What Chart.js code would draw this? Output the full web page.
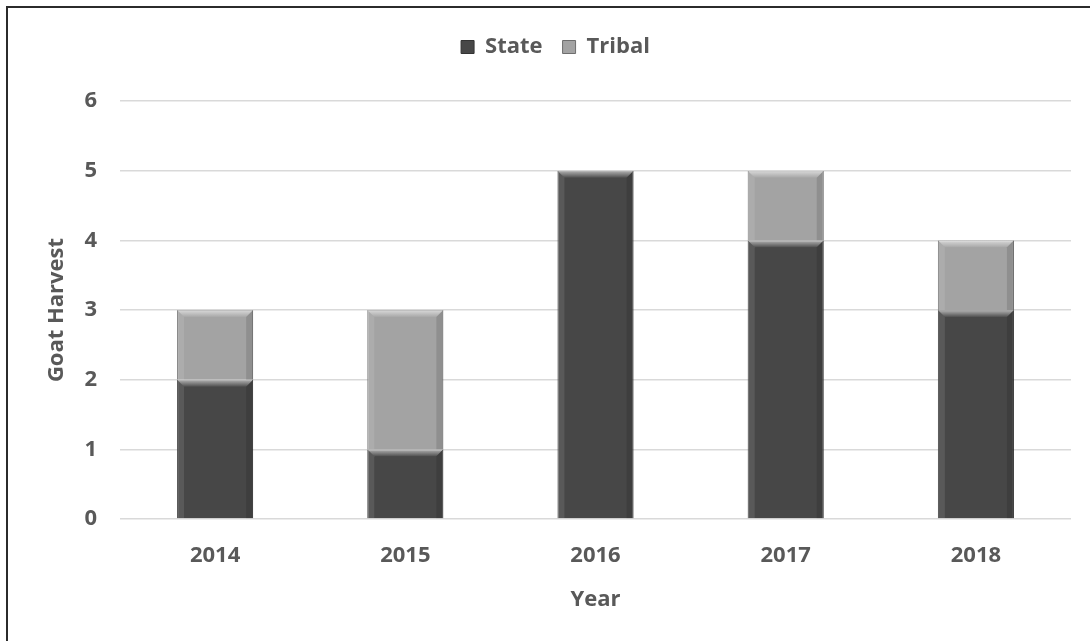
<!DOCTYPE html>
<html lang="en">
<head>
  <meta charset="UTF-8" />
  <title>Goat Harvest</title>
  <script src="https://cdn.jsdelivr.net/npm/chart.js"></script>
  <style>
    body {
      margin: 0;
      background: #fff;
    }

    .frame {
      position: absolute;
      left: 6px;
      top: 6px;
      width: 1084px;
      height: 635px;
      border-left: 2px solid #2b2b2b;
      border-top: 2px solid #2b2b2b;
      box-sizing: border-box;
    }

    .chart-box {
      position: absolute;
      left: 0;
      top: 0;
      width: 1090px;
      height: 641px;
    }
  </style>
</head>
<body>
  <div class="chart-box">
    <canvas id="harvest" width="1090" height="641"></canvas>
  </div>
  <div class="frame"></div>

  <script>
    const years = ['2014', '2015', '2016', '2017', '2018'];
    const stateHarvest = [2, 1, 5, 4, 3];
    const tribalHarvest = [1, 2, 0, 1, 1];
    const yTicks = [0, 1, 2, 3, 4, 5, 6];

    const textGray = '#595959';
    const font = { family: '"Open Sans", Lato, sans-serif', size: 22, weight: 'bold' };

    // soft bevel on top / sides of every bar, like the Office style
    const bevel = {
      id: 'bevel',
      afterDatasetsDraw(chart) {
        const ctx = chart.ctx;
        chart.data.datasets.forEach((ds, i) => {
          const meta = chart.getDatasetMeta(i);
          meta.data.forEach((bar, j) => {
            if (!ds.data[j]) return;
            const left = bar.x - bar.width / 2;
            const right = bar.x + bar.width / 2;
            const top = bar.y;
            const bottom = bar.base;
            const b = 7;
            ctx.save();
            // top bevel
            let g = ctx.createLinearGradient(0, top, 0, top + b);
            g.addColorStop(0, 'rgba(255,255,255,0.6)');
            g.addColorStop(1, 'rgba(255,255,255,0.05)');
            ctx.fillStyle = g;
            ctx.beginPath();
            ctx.moveTo(left, top);
            ctx.lineTo(right, top);
            ctx.lineTo(right - b, top + b);
            ctx.lineTo(left + b, top + b);
            ctx.closePath();
            ctx.fill();
            // left edge
            ctx.fillStyle = 'rgba(255,255,255,0.10)';
            ctx.beginPath();
            ctx.moveTo(left, top);
            ctx.lineTo(left + b, top + b);
            ctx.lineTo(left + b, bottom);
            ctx.lineTo(left, bottom);
            ctx.closePath();
            ctx.fill();
            // right edge
            ctx.fillStyle = 'rgba(0,0,0,0.12)';
            ctx.beginPath();
            ctx.moveTo(right, top);
            ctx.lineTo(right - b, top + b);
            ctx.lineTo(right - b, bottom);
            ctx.lineTo(right, bottom);
            ctx.closePath();
            ctx.fill();
            ctx.restore();
          });
        });
      }
    };

    // extra room under the legend
    const legendGap = {
      id: 'legendGap',
      beforeInit(chart) {
        const fit = chart.legend.fit;
        chart.legend.fit = function () {
          fit.bind(chart.legend)();
          this.height += 33;
        };
      }
    };

    new Chart(document.getElementById('harvest'), {
      type: 'bar',
      data: {
        labels: years,
        datasets: [
          {
            label: 'State',
            data: stateHarvest,
            backgroundColor: '#474747',
            borderColor: '#333333',
            borderWidth: 1,
            barPercentage: 0.8,
            categoryPercentage: 0.5
          },
          {
            label: 'Tribal',
            data: tribalHarvest,
            backgroundColor: '#a3a3a3',
            borderColor: '#6e6e6e',
            borderWidth: 1,
            barPercentage: 0.8,
            categoryPercentage: 0.5
          }
        ]
      },
      options: {
        responsive: false,
        animation: false,
        layout: { padding: { left: 40, right: 19, top: 16, bottom: 21 } },
        plugins: {
          legend: {
            position: 'top',
            labels: {
              color: textGray,
              font: font,
              boxWidth: 13,
              boxHeight: 13,
              padding: 20
            }
          },
          tooltip: { enabled: false }
        },
        scales: {
          x: {
            stacked: true,
            grid: { display: false },
            border: { display: false },
            ticks: { color: textGray, font: font, padding: 16 },
            title: { display: true, text: 'Year', color: textGray, font: font, padding: { top: 0, bottom: 7 } },
            afterFit: (scale) => { scale.height = 101; }
          },
          y: {
            stacked: true,
            min: 0,
            max: 6,
            afterBuildTicks: (scale) => { scale.ticks = yTicks.map(v => ({ value: v })); },
            grid: { color: '#d9d9d9', lineWidth: 1.5, drawTicks: false },
            border: { display: false },
            ticks: { color: textGray, font: font, padding: 23 },
            title: { display: true, text: 'Goat Harvest', color: textGray, font: font, padding: { bottom: 6 } },
            afterFit: (scale) => { scale.width = 80; }
          }
        }
      },
      plugins: [bevel, legendGap]
    });
  </script>
</body>
</html>
